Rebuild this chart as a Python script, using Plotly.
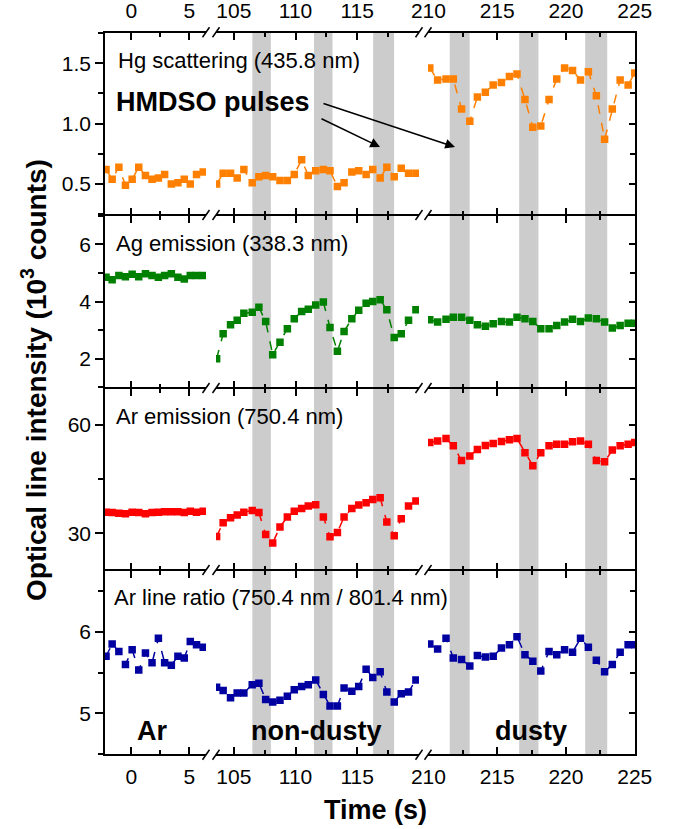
import plotly.graph_objects as go

# ---------------- data ----------------
# time points (s) for the three segments: Ar, non-dusty, dusty
t_ar = [-2.2, -1.67, -1.09, -0.52, 0.06, 0.63, 1.21, 1.78, 2.33, 2.87, 3.45, 4.02, 4.57, 5.09, 5.63, 6.21]
t_nd = [103.6, 104.13, 104.73, 105.27, 105.81, 106.49, 107.03, 107.58, 108.15, 108.74, 109.34, 109.90,
        110.50, 111.04, 111.64, 112.26, 112.80, 113.40, 113.94, 114.57, 115.13, 115.73, 116.27, 116.87,
        117.41, 118.01, 118.58, 119.17, 119.77]
t_d = [210.1, 210.67, 211.28, 211.81, 212.41, 213.01, 213.56, 214.14, 214.71, 215.31, 215.89, 216.44,
       217.02, 217.59, 218.17, 218.77, 219.33, 219.90, 220.48, 221.06, 221.63, 222.21, 222.81, 223.37,
       223.94, 224.52, 225.0]

# Hg scattering (435.8 nm), 10^3 counts
hg_ar = [0.62, 0.54, 0.64, 0.49, 0.54, 0.64, 0.57, 0.54, 0.55, 0.58, 0.50, 0.51, 0.54, 0.50, 0.58, 0.60]
hg_nd = [0.50, 0.59, 0.59, 0.55, 0.62, 0.51, 0.56, 0.57, 0.56, 0.53, 0.53, 0.58, 0.70, 0.57, 0.61,
         0.62, 0.61, 0.48, 0.51, 0.60, 0.61, 0.58, 0.62, 0.55, 0.64, 0.56, 0.63, 0.59, 0.59]
hg_d = [1.46, 1.36, 1.37, 1.37, 1.12, 1.02, 1.22, 1.26, 1.32, 1.34, 1.39, 1.41, 1.20, 0.97, 0.98,
        1.20, 1.37, 1.46, 1.44, 1.36, 1.43, 1.23, 0.87, 1.12, 1.36, 1.32, 1.42]

# Ag emission (338.3 nm)
ag_ar = [4.85, 4.76, 4.91, 4.87, 4.95, 4.87, 4.97, 4.91, 4.85, 4.91, 4.97, 4.85, 4.79, 4.91, 4.91, 4.91]
ag_nd = [2.00, 2.87, 3.19, 3.34, 3.59, 3.62, 3.80, 3.30, 2.14, 2.57, 3.05, 3.40, 3.65, 3.73, 3.88,
         3.98, 3.09, 2.26, 2.95, 3.40, 3.69, 3.94, 4.00, 4.06, 3.71, 2.74, 2.87, 3.34, 3.71]
ag_d = [3.36, 3.28, 3.38, 3.45, 3.45, 3.34, 3.19, 3.13, 3.22, 3.30, 3.28, 3.45, 3.40, 3.30, 3.05,
        3.05, 3.16, 3.28, 3.38, 3.30, 3.42, 3.40, 3.28, 3.07, 3.16, 3.24, 3.24]

# Ar emission (750.4 nm)
ar_ar = [35.8, 35.7, 35.5, 35.4, 35.8, 35.7, 35.4, 35.7, 35.8, 35.9, 35.9, 35.9, 35.7, 36.1, 35.8, 36.1]
ar_nd = [29.1, 32.9, 34.3, 35.0, 35.8, 36.3, 35.7, 29.6, 27.3, 31.7, 34.5, 36.1, 36.8, 37.5, 37.9,
         34.5, 29.0, 30.2, 34.5, 36.8, 37.8, 38.4, 39.3, 39.8, 33.1, 29.3, 34.0, 37.5, 38.9]
ar_d = [55.1, 55.5, 56.2, 54.2, 50.1, 51.4, 53.2, 54.3, 54.8, 55.4, 55.9, 56.2, 52.3, 48.7, 52.3,
        54.2, 54.6, 54.6, 55.3, 55.5, 54.6, 50.1, 49.8, 53.0, 54.2, 54.6, 55.1]

# Ar line ratio (750.4 nm / 801.4 nm)
ratio_ar = [5.70, 5.85, 5.76, 5.60, 5.78, 5.53, 5.74, 5.62, 5.92, 5.62, 5.59, 5.70, 5.68, 5.88, 5.84, 5.81]
ratio_nd = [5.32, 5.28, 5.19, 5.25, 5.25, 5.35, 5.37, 5.17, 5.14, 5.16, 5.21, 5.29, 5.33, 5.35, 5.41,
            5.23, 5.09, 5.09, 5.31, 5.27, 5.33, 5.54, 5.44, 5.51, 5.26, 5.14, 5.24, 5.26, 5.41]
ratio_d = [5.85, 5.79, 5.92, 5.68, 5.66, 5.58, 5.71, 5.69, 5.70, 5.80, 5.84, 5.94, 5.72, 5.64, 5.52,
           5.76, 5.72, 5.78, 5.75, 5.92, 5.81, 5.65, 5.51, 5.60, 5.75, 5.84, 5.84]

# HMDSO pulse intervals (s)
pulses_nd = [(106.5, 108.0), (111.5, 113.0), (116.3, 118.0)]
pulses_d = [(211.55, 213.0), (216.6, 218.0), (221.4, 223.0)]

panel_labels = ["Hg scattering (435.8 nm)", "Ag emission (338.3 nm)",
                "Ar emission (750.4 nm)", "Ar line ratio (750.4 nm / 801.4 nm)"]
phase_labels = ["Ar", "non-dusty", "dusty"]
colors = ["#FF8000", "#008000", "#FF0000", "#0000A0"]

seg_ticks = [[0, 5], [105, 110, 115, 120], [210, 215, 220, 225]]
seg_ticktext = [["0", "5"], ["105", "110", "115", ""], ["210", "215", "220", "225"]]
y_ranges = [[0.25, 1.75], [1, 7], [20, 70], [4.5, 6.75]]
y_ticks = [[0.5, 1.0, 1.5], [2, 4, 6], [30, 60], [5, 6]]
y_ticktext = [["0.5", "1.0", "1.5"], ["2", "4", "6"], ["30", "60"], ["5", "6"]]
y_minor = [0.25, 1, 15, 0.5]

# ---------------- layout geometry ----------------
W, H = 673, 829
L, R, T, B = 105, 38, 33, 75
PW, PH = W - L - R, H - T - B
FONT = "Liberation Sans, Arial, Helvetica, sans-serif"


def fx(px):
    return (px - L) / PW


def fy(py):
    return (H - B - py) / PH


seg_px = [(105, 206), (216, 419), (428, 635)]
seg_range = [[-2.29, 6.45], [103.55, 120.02], [209.97, 225.02]]
panel_px = [(33, 214.25), (215.75, 387.25), (388.75, 569.25), (570.75, 754)]

times = [t_ar, t_nd, t_d]
series = [[hg_ar, hg_nd, hg_d], [ag_ar, ag_nd, ag_d], [ar_ar, ar_nd, ar_d], [ratio_ar, ratio_nd, ratio_d]]

fig = go.Figure()
layout = {}
for p in range(4):
    for s in range(3):
        k = p * 3 + s + 1
        xn = "x" if k == 1 else f"x{k}"
        yn = "y" if k == 1 else f"y{k}"
        fig.add_trace(go.Scatter(
            x=times[s], y=series[p][s], xaxis=xn, yaxis=yn, mode="lines+markers",
            line=dict(color=colors[p], width=1.5, dash="dash"),
            marker=dict(symbol="square", size=7.5, color=colors[p], line=dict(width=0)),
            showlegend=False, hoverinfo="skip"))
        xa = dict(domain=[fx(seg_px[s][0]), fx(seg_px[s][1])], range=seg_range[s], anchor=yn,
                  showline=True, linecolor="black", linewidth=1.5, mirror="ticks",
                  ticks="inside", ticklen=7, tickwidth=1.5, tickcolor="black",
                  tickmode="array", tickvals=seg_ticks[s], ticktext=seg_ticktext[s],
                  showgrid=False, zeroline=False,
                  minor=dict(dtick=2.5, tick0=0, ticks="inside", ticklen=4, tickwidth=1.5,
                             tickcolor="black", showgrid=False),
                  tickfont=dict(size=21, color="black", family=FONT), ticklabelstandoff=5)
        if p == 0:
            xa.update(side="top", showticklabels=True)
        elif p == 3:
            xa.update(side="bottom", showticklabels=True, ticklabelstandoff=3)
        else:
            xa.update(showticklabels=False)
        ya = dict(domain=[fy(panel_px[p][1]), fy(panel_px[p][0])], range=y_ranges[p], anchor=xn,
                  showgrid=False, zeroline=False)
        if s == 0:
            ya.update(side="left", showline=True, linecolor="black", linewidth=1.5,
                      ticks="outside", ticklen=8, tickwidth=1.5, tickcolor="black",
                      tickmode="array", tickvals=y_ticks[p], ticktext=y_ticktext[p],
                      minor=dict(dtick=y_minor[p], tick0=0, ticks="outside", ticklen=5,
                                 tickwidth=1.5, tickcolor="black", showgrid=False),
                      tickfont=dict(size=21, color="black", family=FONT))
        elif s == 1:
            ya.update(showline=False, ticks="", showticklabels=False)
        else:
            ya.update(side="right", showline=True, linecolor="black", linewidth=1.5,
                      ticks="inside", ticklen=6, tickwidth=1.5, tickcolor="black",
                      tickmode="array", tickvals=y_ticks[p], showticklabels=False,
                      minor=dict(dtick=y_minor[p], tick0=0, ticks="inside", ticklen=5,
                                 tickwidth=1.5, tickcolor="black", showgrid=False))
        layout["xaxis" if k == 1 else f"xaxis{k}"] = xa
        layout["yaxis" if k == 1 else f"yaxis{k}"] = ya

shapes = []
# pulse bands spanning all panels
for (a, b) in pulses_nd:
    shapes.append(dict(type="rect", xref="x2", yref="paper", x0=a, x1=b, y0=0, y1=1,
                       fillcolor="#cccccc", line=dict(width=0), layer="below"))
for (a, b) in pulses_d:
    shapes.append(dict(type="rect", xref="x3", yref="paper", x0=a, x1=b, y0=0, y1=1,
                       fillcolor="#cccccc", line=dict(width=0), layer="below"))
# axis break marks
for yb in [32.25, 215, 388, 570, 754.75]:
    for xb in [206, 216, 419, 428]:
        shapes.append(dict(type="line", xref="paper", yref="paper",
                           x0=fx(xb - 3.5), y0=fy(yb + 5), x1=fx(xb + 3.5), y1=fy(yb - 5),
                           line=dict(color="black", width=1.5)))

ann = []
label_pos = [(116, 61), (114, 243), (114, 416), (112, 597)]
for lab, (lx, ly) in zip(panel_labels, label_pos):
    ann.append(dict(text=lab, x=fx(lx), y=fy(ly), xref="paper", yref="paper", xanchor="left",
                    yanchor="middle", showarrow=False, font=dict(size=22, color="black", family=FONT)))
for lab, cx in zip(phase_labels, [152, 316, 531]):
    ann.append(dict(text=f"<b>{lab}</b>", x=fx(cx), y=fy(731), xref="paper", yref="paper",
                    xanchor="center", yanchor="middle", showarrow=False,
                    font=dict(size=27, color="black", family=FONT)))
ann.append(dict(text="<b>HMDSO pulses</b>", x=fx(213), y=fy(102), xref="paper", yref="paper",
                xanchor="center", yanchor="middle", showarrow=False,
                font=dict(size=27, color="black", family=FONT)))
for (tx, ty, hx, hy) in [(320, 118, 380, 147), (322, 103, 455, 147)]:
    ann.append(dict(text="", x=fx(hx), y=fy(hy), xref="paper", yref="paper",
                    ax=tx - hx, ay=ty - hy, showarrow=True, arrowhead=2, arrowsize=1.3,
                    arrowwidth=1.5, arrowcolor="black", standoff=0, startstandoff=0))
ann.append(dict(text="<b>Optical line intensity (10<sup>3</sup> counts)</b>", x=fx(34), y=fy(380),
                xref="paper", yref="paper", xanchor="center", yanchor="middle", textangle=-90,
                showarrow=False, font=dict(size=28, color="black", family=FONT)))
ann.append(dict(text="<b>Time (s)</b>", x=fx(375), y=fy(810), xref="paper", yref="paper",
                xanchor="center", yanchor="middle", showarrow=False,
                font=dict(size=27, color="black", family=FONT)))

fig.update_layout(width=W, height=H, margin=dict(l=L, r=R, t=T, b=B, autoexpand=False),
                  paper_bgcolor="white", plot_bgcolor="rgba(0,0,0,0)",
                  shapes=shapes, annotations=ann, font=dict(family=FONT, color="black"),
                  **layout)
fig.write_html("out.html")
